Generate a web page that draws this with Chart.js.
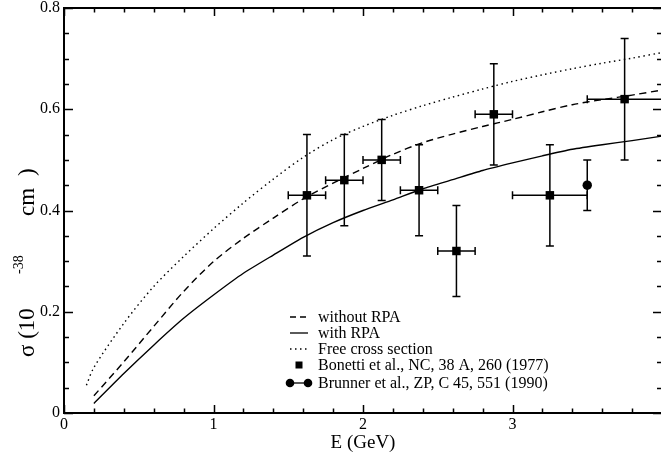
<!DOCTYPE html>
<html>
<head>
<meta charset="utf-8">
<script src="https://cdn.jsdelivr.net/npm/chart.js@4.4.1/dist/chart.umd.min.js"></script>
<style>
  html, body { margin: 0; padding: 0; background: #fff; overflow: hidden; }
  #wrap { width: 668px; height: 453px; }
</style>
</head>
<body>
<div id="wrap"><canvas id="c" width="668" height="453"></canvas></div>
<script>
// ---- data ----
const energyGrid = [0.2,0.4,0.6,0.8,1.0,1.2,1.4,1.6,1.8,2.0,2.2,2.4,2.6,2.8,3.0,3.2,3.4,3.6,3.8,4.0];
const sigmaWithoutRPA = [0.034,0.101,0.171,0.240,0.299,0.345,0.385,0.423,0.454,0.483,0.511,0.534,0.551,0.566,0.580,0.595,0.609,0.619,0.628,0.638];
const sigmaWithRPA    = [0.019,0.078,0.134,0.187,0.233,0.276,0.312,0.347,0.376,0.400,0.421,0.443,0.461,0.479,0.494,0.508,0.521,0.530,0.538,0.547];
const energyFree = [0.15,0.2,0.4,0.6,0.8,1.0,1.2,1.4,1.6,1.8,2.0,2.2,2.4,2.6,2.8,3.0,3.2,3.4,3.6,3.8,4.0];
const sigmaFree  = [0.055,0.090,0.177,0.250,0.309,0.364,0.415,0.462,0.505,0.540,0.566,0.588,0.607,0.624,0.640,0.655,0.668,0.680,0.691,0.701,0.712];

const bonettiE        = [1.625,1.875,2.125,2.375,2.625,2.875,3.25,3.75];
const bonettiEErr     = [0.125,0.125,0.125,0.125,0.125,0.125,0.25,0.25];
const bonettiSigma    = [0.43,0.46,0.50,0.44,0.32,0.59,0.43,0.62];
const bonettiSigmaErr = [0.12,0.09,0.08,0.09,0.09,0.10,0.10,0.12];

const brunnerE        = [3.5];
const brunnerSigma    = [0.45];
const brunnerSigmaErr = [0.05];

const xTickLabels = ['0','1','2','3'];
const legendLabels = ['without RPA','with RPA','Free cross section','Bonetti et al., NC, 38 A, 260 (1977)','Brunner et al., ZP, C 45, 551 (1990)'];

const FONT = '"Liberation Serif", "Times New Roman", serif';

const toXY = (xs, ys) => xs.map((x, i) => ({x, y: ys[i]}));

// error bars
const errorBarPlugin = {
  id: 'errorBars',
  beforeDatasetsDraw(chart) {
    const {ctx, scales: {x, y}, chartArea: a} = chart;
    ctx.save();
    ctx.beginPath();
    ctx.rect(a.left, a.top, a.right - a.left, a.bottom - a.top);
    ctx.clip();
    ctx.strokeStyle = '#000';
    ctx.lineWidth = 1.5;
    const cap = 4;
    const drawV = (ex, ey, err) => {
      const px = x.getPixelForValue(ex);
      const y1 = y.getPixelForValue(ey - err), y2 = y.getPixelForValue(ey + err);
      ctx.beginPath();
      ctx.moveTo(px, y1); ctx.lineTo(px, y2);
      ctx.moveTo(px - cap, y1); ctx.lineTo(px + cap, y1);
      ctx.moveTo(px - cap, y2); ctx.lineTo(px + cap, y2);
      ctx.stroke();
    };
    const drawH = (ex, ey, err) => {
      const py = y.getPixelForValue(ey);
      const x1 = x.getPixelForValue(ex - err), x2 = x.getPixelForValue(ex + err);
      ctx.beginPath();
      ctx.moveTo(x1, py); ctx.lineTo(x2, py);
      ctx.moveTo(x1, py - cap); ctx.lineTo(x1, py + cap);
      ctx.moveTo(x2, py - cap); ctx.lineTo(x2, py + cap);
      ctx.stroke();
    };
    bonettiE.forEach((e, i) => {
      drawV(e, bonettiSigma[i], bonettiSigmaErr[i]);
      drawH(e, bonettiSigma[i], bonettiEErr[i]);
    });
    brunnerE.forEach((e, i) => drawV(e, brunnerSigma[i], brunnerSigmaErr[i]));
    ctx.restore();
  }
};

// frame, inward ticks, titles, legend
const decorPlugin = {
  id: 'decor',
  afterDraw(chart) {
    const {ctx, scales: {x, y}, chartArea: a} = chart;
    ctx.save();
    ctx.strokeStyle = '#000';
    ctx.lineWidth = 2;
    ctx.strokeRect(a.left, a.top, a.right - a.left, a.bottom - a.top);
    ctx.lineWidth = 1.5;
    ctx.beginPath();
    for (let k = 0; k <= 20; k++) {
      const v = k * 0.2;
      const len = (k % 5 === 0) ? 8 : 4.5;
      const px = Math.round(x.getPixelForValue(v)) + 0.5;
      ctx.moveTo(px, a.bottom); ctx.lineTo(px, a.bottom - len);
      ctx.moveTo(px, a.top); ctx.lineTo(px, a.top + len);
    }
    for (let k = 0; k <= 16; k++) {
      const v = k * 0.05;
      const len = (k % 4 === 0) ? 9 : 5;
      const py = Math.round(y.getPixelForValue(v)) + 0.5;
      ctx.moveTo(a.left, py); ctx.lineTo(a.left + len, py);
      ctx.moveTo(a.right, py); ctx.lineTo(a.right - len, py);
    }
    ctx.stroke();

    // x title
    ctx.fillStyle = '#000';
    ctx.font = '19px ' + FONT;
    ctx.textAlign = 'center';
    ctx.textBaseline = 'alphabetic';
    ctx.fillText('E (GeV)', (a.left + a.right) / 2, 448);

    // y title with superscript (pieces placed along the axis)
    ctx.save();
    ctx.translate(34, 0);
    ctx.rotate(-Math.PI / 2);
    ctx.textAlign = 'left';
    const part = (t, size, startY, dy) => {
      ctx.font = size + 'px ' + FONT;
      ctx.fillText(t, -startY, dy);
    };
    part('\u03c3 (10', 23, 357, 0);
    part('-38', 14, 274, -11);
    part('cm', 23, 216, 0);
    part(')', 23, 176, 0);
    ctx.restore();

    // legend
    const lx1 = 290, lx2 = 308, tx = 318;
    const rows = [317, 333, 349, 365, 383];
    ctx.font = '16px ' + FONT;
    ctx.textAlign = 'left';
    ctx.textBaseline = 'middle';
    ctx.lineWidth = 1.3;
    ctx.setLineDash([6, 4]);
    ctx.beginPath(); ctx.moveTo(lx1, rows[0]); ctx.lineTo(lx2, rows[0]); ctx.stroke();
    ctx.setLineDash([]);
    ctx.beginPath(); ctx.moveTo(lx1, rows[1]); ctx.lineTo(lx2, rows[1]); ctx.stroke();
    ctx.setLineDash([1.5, 3.5]);
    ctx.beginPath(); ctx.moveTo(lx1, rows[2]); ctx.lineTo(lx2, rows[2]); ctx.stroke();
    ctx.setLineDash([]);
    ctx.fillRect(295.5, rows[3] - 3.5, 7, 7);
    ctx.beginPath(); ctx.moveTo(lx1, rows[4]); ctx.lineTo(lx2, rows[4]); ctx.stroke();
    [lx1, lx2].forEach(cxp => { ctx.beginPath(); ctx.arc(cxp, rows[4], 4.3, 0, Math.PI * 2); ctx.fill(); });
    legendLabels.forEach((t, i) => ctx.fillText(t, tx, rows[i] + 1));
    ctx.restore();
  }
};

new Chart(document.getElementById('c'), {
  type: 'scatter',
  data: {
    datasets: [
      { label: legendLabels[0], data: toXY(energyGrid, sigmaWithoutRPA), showLine: true, borderColor: '#000', borderWidth: 1.4, borderDash: [7, 4.5], pointRadius: 0, tension: 0.3, fill: false },
      { label: legendLabels[1], data: toXY(energyGrid, sigmaWithRPA), showLine: true, borderColor: '#000', borderWidth: 1.4, pointRadius: 0, tension: 0.2, fill: false },
      { label: legendLabels[2], data: toXY(energyFree, sigmaFree), showLine: true, borderColor: '#000', borderWidth: 1.4, borderDash: [1.5, 3.5], pointRadius: 0, tension: 0.3, fill: false },
      { label: legendLabels[3], data: toXY(bonettiE, bonettiSigma), pointStyle: 'rect', pointRadius: 6, backgroundColor: '#000', borderColor: '#000', borderWidth: 0 },
      { label: legendLabels[4], data: toXY(brunnerE, brunnerSigma), pointStyle: 'circle', pointRadius: 4.7, backgroundColor: '#000', borderColor: '#000', borderWidth: 0 }
    ]
  },
  options: {
    responsive: false,
    animation: false,
    layout: { padding: { left: 0, right: 3, top: 8, bottom: 0 } },
    plugins: { legend: { display: false }, tooltip: { enabled: false } },
    scales: {
      x: {
        type: 'linear', min: 0, max: 4,
        grid: { display: false, drawTicks: false },
        border: { display: false },
        ticks: {
          stepSize: 1, padding: 2, color: '#000', maxRotation: 0,
          font: { family: FONT, size: 16 },
          callback: (v) => xTickLabels[v] !== undefined ? xTickLabels[v] : ''
        },
        afterFit: (s) => { s.height = 40; s.paddingLeft = 0; s.paddingRight = 0; }
      },
      y: {
        type: 'linear', min: 0, max: 0.8,
        grid: { display: false, drawTicks: false },
        border: { display: false },
        ticks: {
          stepSize: 0.2, padding: 4, color: '#000',
          font: { family: FONT, size: 16 },
          callback: (v) => String(Math.round(v * 10) / 10)
        },
        afterFit: (s) => { s.width = 64; s.paddingTop = 0; s.paddingBottom = 0; }
      }
    }
  },
  plugins: [errorBarPlugin, decorPlugin]
});
</script>
</body>
</html>
